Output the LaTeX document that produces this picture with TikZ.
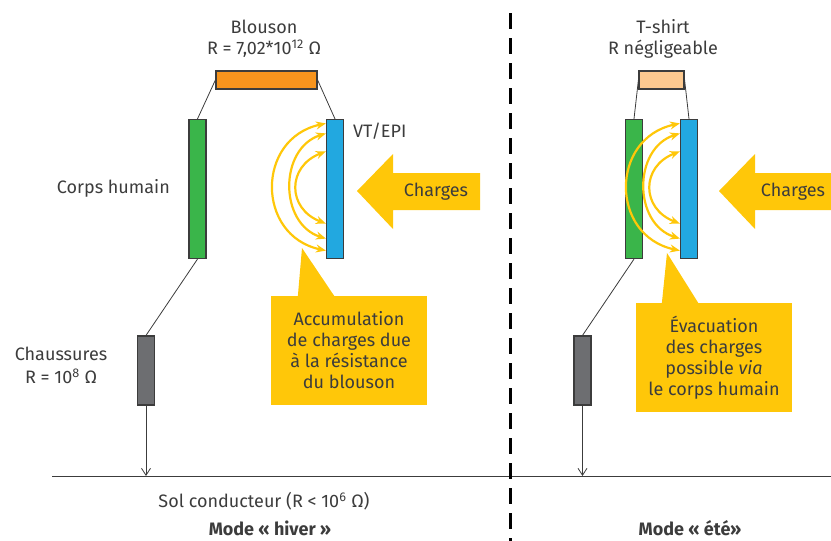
\documentclass[tikz,border=0pt]{standalone}
\usepackage{fontspec}
\setmainfont{Fira Sans}
\usepackage{xcolor}
\usetikzlibrary{arrows.meta, positioning, calc}

\definecolor{txt}{HTML}{3C3C3C}
\definecolor{jaune}{HTML}{FFC709}
\definecolor{orangeB}{HTML}{F7941D}
\definecolor{orangeT}{HTML}{FDC98F}
\definecolor{vert}{HTML}{3AB54A}
\definecolor{bleu}{HTML}{22A8E0}
\definecolor{gris}{HTML}{6D6E71}

\begin{document}
\begin{tikzpicture}[x=1pt, y=-1pt, font=\fontsize{18}{21}\selectfont, text=txt,
  res/.style={draw=txt, line width=1.2pt, inner sep=0pt},
  bar/.style={res, minimum width=17pt, minimum height=139pt},
  shoe/.style={res, fill=gris, minimum width=17pt, minimum height=69pt},
  wire/.style={draw=txt, line width=0.8pt},
  flux/.style={draw=jaune, line width=2.2pt,
               {Stealth[length=10pt,width=8pt]}-{Stealth[length=10pt,width=8pt]}},
  bulle/.style={fill=jaune, align=center, minimum width=156pt,
                minimum height=109pt, inner sep=0pt},
  lbl/.style={inner sep=0pt, align=center}]
  \useasboundingbox (0,0) rectangle (831,541);

  % mode hiver
  \node[lbl] (blousonnom) at (264,27) {Blouson};
  \node[lbl] (blousonr) at (264,49) {R = 7,02*10\textsuperscript{12} Ω};
  \node[res, fill=orangeB, minimum width=101pt, minimum height=18pt] (blouson) at (266.5,80) {};
  \node[bar, fill=vert] (corpsA) at (197.5,189) {};
  \node[bar, fill=bleu] (vtA) at (335,189) {};
  \node[shoe] (chausA) at (146,370.5) {};
  \node[lbl, anchor=west] (vtlbl) at (353,131) {VT/EPI};
  \node[lbl, anchor=east] (corpslbl) at (170,188) {Corps humain};
  \node[lbl] (chausnom) at (61,354) {Chaussures};
  \node[lbl] (chausr) at (61,376) {R = 10\textsuperscript{8} Ω};

  \draw[wire] (blouson.west) -- (corpsA.north);
  \draw[wire] (blouson.east) -- (vtA.north);
  \draw[wire] (corpsA.south) -- (chausA.north);

  \foreach \d/\t/\b in {70/4.5/8.5, 47/14.5/20.5, 39/32.5/35.5}
    \draw[flux] ([yshift=-\t pt]vtA.north west) .. controls +(-\d,15) and +(-\d,-15)
      .. ([yshift=\b pt]vtA.south west);

  \coordinate (tipA) at (357,191);
  \fill[jaune] (tipA) -- ++(36,-37) -- ++(0,19) -- ++(87,0) -- ++(0,37)
    -- ++(-87,0) -- ++(0,19) -- cycle;
  \node[lbl] (chargesA) at (436,192) {Charges};

  \node[bulle] (accu) at (349,350.5) {Accumulation\\de charges due\\à la résistance\\du blouson};
  \coordinate (pointeA) at (302,248);
  \fill[jaune] ([xshift=27pt, yshift=-1pt]accu.north west) -- (pointeA)
    -- ([xshift=64pt, yshift=-1pt]accu.north west) -- cycle;

  % sol et separation
  \coordinate (solG) at (52,476);
  \coordinate (solD) at (831,476);
  \draw[wire] (solG) -- (solD);
  \draw[wire, -{Straight Barb[length=7pt,width=9pt]}] (chausA.south) -- (chausA.south |- solG);
  \node[lbl] (sol) at (264,501) {Sol conducteur (R < 10\textsuperscript{6} Ω)};
  \node[lbl, font=\fontsize{18}{21}\selectfont\bfseries] (hiver) at (270,528) {Mode « hiver »};

  \coordinate (sepH) at (510,13);
  \coordinate (sepB) at (510,541);
  \draw[line width=3pt, dash pattern=on 16pt off 9pt] (sepH) -- (sepB);

  % mode ete
  \node[lbl] (tshirtnom) at (663,27) {T-shirt};
  \node[lbl] (tshirtr) at (663,49) {R négligeable};
  \node[res, fill=orangeT, minimum width=45pt, minimum height=18pt] (tshirt) at (661.5,80) {};
  \node[bar, fill=vert] (corpsB) at (634,189) {};
  \node[bar, fill=bleu] (vtB) at (689,189) {};
  \node[shoe] (chausB) at (582.5,370.5) {};

  \draw[wire] (tshirt.west) -- (corpsB.north);
  \draw[wire] (tshirt.east) -- (vtB.north);
  \draw[wire] (corpsB.south) -- (chausB.north);
  \draw[wire, -{Straight Barb[length=7pt,width=9pt]}] (chausB.south) -- (chausB.south |- solG);

  \foreach \d/\t/\b in {70/4.5/8.5, 47/14.5/20.5, 39/32.5/35.5}
    \draw[flux] ([yshift=-\t pt]vtB.north west) .. controls +(-\d,15) and +(-\d,-15)
      .. ([yshift=\b pt]vtB.south west);

  \coordinate (tipB) at (719,191);
  \fill[jaune] (tipB) -- ++(36,-37) -- ++(0,19) -- ++(76,0) -- ++(0,37)
    -- ++(-76,0) -- ++(0,19) -- cycle;
  \node[lbl] (chargesB) at (793,192) {Charges};

  \node[bulle] (evac) at (714,357.5) {Évacuation\\des charges\\possible \textit{via}\\le corps humain};
  \coordinate (pointeB) at (667,253);
  \fill[jaune] ([xshift=26pt, yshift=-1pt]evac.north west) -- (pointeB)
    -- ([xshift=63pt, yshift=-1pt]evac.north west) -- cycle;
  \node[lbl, font=\fontsize{18}{21}\selectfont\bfseries] (ete) at (690,528) {Mode « été»};
\end{tikzpicture}
\end{document}
